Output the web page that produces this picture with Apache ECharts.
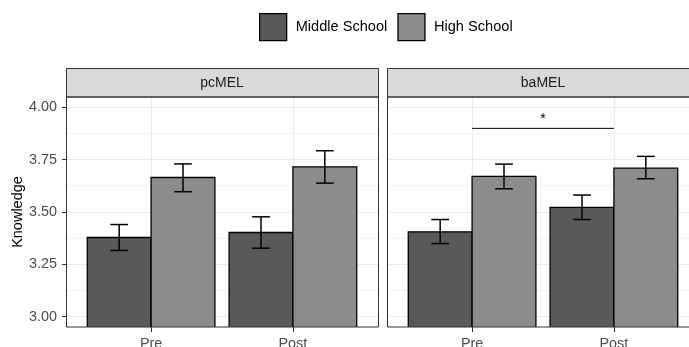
<!DOCTYPE html>
<html>
<head>
<meta charset="utf-8">
<script src="https://cdn.jsdelivr.net/npm/echarts@6/dist/echarts.min.js"></script>
<style>html,body{margin:0;padding:0;background:#fff}#c{width:689px;height:347px}</style>
</head>
<body>
<div id="c"></div>
<script>
const categories = ['Pre', 'Post'];
const panels = ['pcMEL', 'baMEL'];
const groups = ['Middle School', 'High School'];
// [panel][category]
const middleMean = [[3.378, 3.402], [3.405, 3.522]];
const middleLow  = [[3.316, 3.327], [3.349, 3.464]];
const middleHigh = [[3.440, 3.477], [3.464, 3.581]];
const highMean   = [[3.665, 3.716], [3.670, 3.710]];
const highLow    = [[3.597, 3.638], [3.611, 3.659]];
const highHigh   = [[3.730, 3.793], [3.729, 3.766]];
const yTicks = [3.00, 3.25, 3.50, 3.75, 4.00];
const yMinor = [3.125, 3.375, 3.625, 3.875];
const sigPanel = 1;
const sigFrom = 'Pre';
const sigTo = 'Post';
const sigY = 3.90;
const sigLabel = '*';

const Y_MIN = 2.95, Y_MAX = 4.05;
const X_MIN = 0.4, X_MAX = 2.6;
const colors = ['#595959', '#8C8C8C'];
const FONT = '"Liberation Sans", Arial, Helvetica, sans-serif';

const gridLeft = [66, 387];
const gridW = 312, gridTop = 97, gridH = 230;

const chart = echarts.init(document.getElementById('c'), null, {renderer: 'canvas'});

function barRenderer(dir) {
  return function (params, api) {
    const cat = api.value(0), mean = api.value(1), lo = api.value(2), hi = api.value(3);
    const x0 = dir < 0 ? cat - 0.45 : cat;
    const x1 = x0 + 0.45;
    const pTop = api.coord([x0, mean]);
    const pBot = api.coord([x1, Y_MIN]);
    const xc = cat + dir * 0.225;
    const a = api.coord([xc - 0.0625, hi]);
    const b = api.coord([xc + 0.0625, lo]);
    const c = api.coord([xc, hi]);
    return {
      type: 'group',
      children: [
        {type: 'rect', shape: {x: pTop[0], y: pTop[1], width: pBot[0] - pTop[0], height: pBot[1] - pTop[1] + 2},
         style: {fill: api.visual('color'), stroke: '#000', lineWidth: 1.3}},
        {type: 'line', shape: {x1: c[0], y1: a[1], x2: c[0], y2: b[1]}, style: {stroke: '#000', lineWidth: 1.5}},
        {type: 'line', shape: {x1: a[0], y1: a[1], x2: b[0], y2: a[1]}, style: {stroke: '#000', lineWidth: 1.5}},
        {type: 'line', shape: {x1: a[0], y1: b[1], x2: b[0], y2: b[1]}, style: {stroke: '#000', lineWidth: 1.5}}
      ]
    };
  };
}

function minorRenderer(params, api) {
  const v = api.value(0);
  const p0 = api.coord([X_MIN, v]);
  const p1 = api.coord([X_MAX, v]);
  return {type: 'line', shape: {x1: p0[0], y1: p0[1], x2: p1[0], y2: p1[1]}, style: {stroke: '#F3F3F3', lineWidth: 1}};
}

const grids = [], xAxes = [], yAxes = [], series = [], graphics = [];
panels.forEach((name, i) => {
  grids.push({left: gridLeft[i], top: gridTop, width: gridW, height: gridH, show: false,
    containLabel: false, outerBoundsMode: 'none'});
  xAxes.push({
    type: 'value', gridIndex: i, min: X_MIN, max: X_MAX,
    axisLine: {show: false},
    axisTick: {show: true, length: 5, lineStyle: {color: '#333'}, customValues: [1, 2]},
    axisLabel: {customValues: [1, 2], formatter: v => categories[Math.round(v) - 1] || '', color: '#4D4D4D', fontSize: 14.4, fontFamily: FONT, margin: 10},
    splitLine: {show: true, lineStyle: {color: '#EBEBEB', width: 1.2}}
  });
  yAxes.push({
    type: 'value', gridIndex: i, min: Y_MIN, max: Y_MAX,
    axisLine: {show: false},
    axisTick: {show: i === 0, length: 4, lineStyle: {color: '#333'}, customValues: yTicks},
    axisLabel: {show: i === 0, customValues: yTicks, formatter: v => v.toFixed(2), color: '#4D4D4D', fontSize: 14.4, fontFamily: FONT, margin: 9, padding: [0, 0, 8, 0]},
    splitLine: {show: true, lineStyle: {color: '#EBEBEB', width: 1.2}},
    name: i === 0 ? 'Knowledge' : '', nameLocation: 'middle', nameGap: 41, nameRotate: 90,
    nameTextStyle: {color: '#000', fontSize: 14.5, fontFamily: FONT}
  });
  series.push({
    type: 'custom', xAxisIndex: i, yAxisIndex: i, z: 1, silent: true,
    renderItem: minorRenderer, data: yMinor.map(v => [v])
  });
  series.push({
    type: 'custom', name: groups[0], xAxisIndex: i, yAxisIndex: i, z: 3, clip: true,
    itemStyle: {color: colors[0]},
    renderItem: barRenderer(-1),
    data: categories.map((c, k) => [k + 1, middleMean[i][k], middleLow[i][k], middleHigh[i][k]])
  });
  series.push({
    type: 'custom', name: groups[1], xAxisIndex: i, yAxisIndex: i, z: 3, clip: true,
    itemStyle: {color: colors[1]},
    renderItem: barRenderer(1),
    data: categories.map((c, k) => [k + 1, highMean[i][k], highLow[i][k], highHigh[i][k]])
  });
  // facet strip
  graphics.push({type: 'rect', shape: {x: gridLeft[i] + 0.5, y: 68.5, width: gridW, height: 28.5},
    style: {fill: '#D9D9D9', stroke: '#333', lineWidth: 1}, z: 10});
  graphics.push({type: 'text', x: gridLeft[i] + gridW / 2, y: 83.5,
    style: {text: name, fill: '#1A1A1A', font: '14px ' + FONT, align: 'center', verticalAlign: 'middle'}, z: 11});
  // panel border
  graphics.push({type: 'rect', shape: {x: gridLeft[i] + 0.5, y: gridTop, width: gridW, height: gridH},
    style: {fill: 'none', stroke: '#333', lineWidth: 1}, z: 10});
});

// significance bracket
const fromX = categories.indexOf(sigFrom) + 1, toX = categories.indexOf(sigTo) + 1;
series.push({
  type: 'custom', xAxisIndex: sigPanel, yAxisIndex: sigPanel, z: 4, silent: true,
  renderItem: function (params, api) {
    const a = api.coord([api.value(0), api.value(2)]);
    const b = api.coord([api.value(1), api.value(2)]);
    return {type: 'group', children: [
      {type: 'line', shape: {x1: a[0], y1: a[1], x2: b[0], y2: b[1]}, style: {stroke: '#000', lineWidth: 1}},
      {type: 'text', x: (a[0] + b[0]) / 2, y: a[1] - 2, style: {text: sigLabel, fill: '#000', font: '14px ' + FONT, align: 'center', verticalAlign: 'bottom'}}
    ]};
  },
  data: [[fromX, toX, sigY]]
});

chart.setOption({
  animation: false,
  backgroundColor: '#fff',
  legend: {
    data: groups, top: 13, left: 259, padding: 0, itemWidth: 27, itemHeight: 27, itemGap: 10, icon: 'rect',
    itemStyle: {borderColor: '#000', borderWidth: 1.3},
    textStyle: {color: '#000', fontSize: 14.6, fontFamily: FONT, padding: [0, 0, 0, 4]}
  },
  grid: grids, xAxis: xAxes, yAxis: yAxes, series: series, graphic: graphics
});
</script>
</body>
</html>
